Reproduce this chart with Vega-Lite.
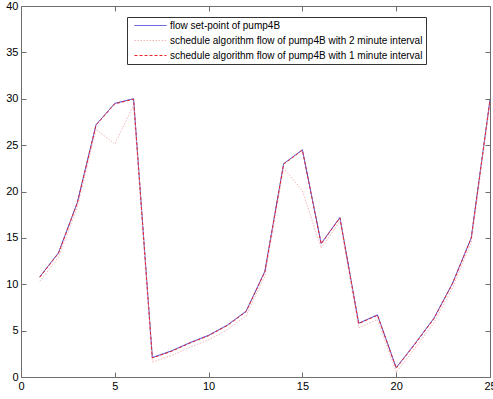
{
  "$schema": "https://vega.github.io/schema/vega-lite/v6.json",
  "width": 469,
  "height": 371,
  "autosize": {"type": "none"},
  "padding": {"left": 21, "top": 6, "right": 3, "bottom": 22},
  "background": "white",
  "config": {
    "view": {"stroke": null},
    "font": "Liberation Sans",
    "axis": {
      "grid": false,
      "domainColor": "#6e6e6e",
      "tickColor": "#6e6e6e",
      "tickSize": -5,
      "labelFontSize": 11,
      "labelColor": "#000000",
      "labelFont": "Liberation Sans",
      "title": null
    }
  },
  "datasets": {
    "flows": [
      {"x": 1, "series": "flow set-point of pump4B", "value": 10.8},
      {"x": 2, "series": "flow set-point of pump4B", "value": 13.4},
      {"x": 3, "series": "flow set-point of pump4B", "value": 18.8},
      {"x": 4, "series": "flow set-point of pump4B", "value": 27.2},
      {"x": 5, "series": "flow set-point of pump4B", "value": 29.5},
      {"x": 6, "series": "flow set-point of pump4B", "value": 30.0},
      {"x": 7, "series": "flow set-point of pump4B", "value": 2.1},
      {"x": 8, "series": "flow set-point of pump4B", "value": 2.8},
      {"x": 9, "series": "flow set-point of pump4B", "value": 3.7},
      {"x": 10, "series": "flow set-point of pump4B", "value": 4.5},
      {"x": 11, "series": "flow set-point of pump4B", "value": 5.6},
      {"x": 12, "series": "flow set-point of pump4B", "value": 7.1},
      {"x": 13, "series": "flow set-point of pump4B", "value": 11.4},
      {"x": 14, "series": "flow set-point of pump4B", "value": 23.0},
      {"x": 15, "series": "flow set-point of pump4B", "value": 24.5},
      {"x": 16, "series": "flow set-point of pump4B", "value": 14.4},
      {"x": 17, "series": "flow set-point of pump4B", "value": 17.2},
      {"x": 18, "series": "flow set-point of pump4B", "value": 5.8},
      {"x": 19, "series": "flow set-point of pump4B", "value": 6.7},
      {"x": 20, "series": "flow set-point of pump4B", "value": 1.0},
      {"x": 21, "series": "flow set-point of pump4B", "value": 3.6},
      {"x": 22, "series": "flow set-point of pump4B", "value": 6.3},
      {"x": 23, "series": "flow set-point of pump4B", "value": 10.1},
      {"x": 24, "series": "flow set-point of pump4B", "value": 15.0},
      {"x": 25, "series": "flow set-point of pump4B", "value": 29.9},

      {"x": 1, "series": "schedule algorithm flow of pump4B with 2 minute interval", "value": 10.3},
      {"x": 2, "series": "schedule algorithm flow of pump4B with 2 minute interval", "value": 12.9},
      {"x": 3, "series": "schedule algorithm flow of pump4B with 2 minute interval", "value": 18.3},
      {"x": 4, "series": "schedule algorithm flow of pump4B with 2 minute interval", "value": 26.7},
      {"x": 5, "series": "schedule algorithm flow of pump4B with 2 minute interval", "value": 25.1},
      {"x": 6, "series": "schedule algorithm flow of pump4B with 2 minute interval", "value": 29.3},
      {"x": 7, "series": "schedule algorithm flow of pump4B with 2 minute interval", "value": 1.6},
      {"x": 8, "series": "schedule algorithm flow of pump4B with 2 minute interval", "value": 2.3},
      {"x": 9, "series": "schedule algorithm flow of pump4B with 2 minute interval", "value": 3.2},
      {"x": 10, "series": "schedule algorithm flow of pump4B with 2 minute interval", "value": 4.0},
      {"x": 11, "series": "schedule algorithm flow of pump4B with 2 minute interval", "value": 5.1},
      {"x": 12, "series": "schedule algorithm flow of pump4B with 2 minute interval", "value": 6.6},
      {"x": 13, "series": "schedule algorithm flow of pump4B with 2 minute interval", "value": 10.9},
      {"x": 14, "series": "schedule algorithm flow of pump4B with 2 minute interval", "value": 22.5},
      {"x": 15, "series": "schedule algorithm flow of pump4B with 2 minute interval", "value": 20.1},
      {"x": 16, "series": "schedule algorithm flow of pump4B with 2 minute interval", "value": 13.9},
      {"x": 17, "series": "schedule algorithm flow of pump4B with 2 minute interval", "value": 16.8},
      {"x": 18, "series": "schedule algorithm flow of pump4B with 2 minute interval", "value": 5.3},
      {"x": 19, "series": "schedule algorithm flow of pump4B with 2 minute interval", "value": 6.2},
      {"x": 20, "series": "schedule algorithm flow of pump4B with 2 minute interval", "value": 0.5},
      {"x": 21, "series": "schedule algorithm flow of pump4B with 2 minute interval", "value": 3.1},
      {"x": 22, "series": "schedule algorithm flow of pump4B with 2 minute interval", "value": 5.8},
      {"x": 23, "series": "schedule algorithm flow of pump4B with 2 minute interval", "value": 9.6},
      {"x": 24, "series": "schedule algorithm flow of pump4B with 2 minute interval", "value": 14.5},
      {"x": 25, "series": "schedule algorithm flow of pump4B with 2 minute interval", "value": 29.4},

      {"x": 1, "series": "schedule algorithm flow of pump4B with 1 minute interval", "value": 10.75},
      {"x": 2, "series": "schedule algorithm flow of pump4B with 1 minute interval", "value": 13.35},
      {"x": 3, "series": "schedule algorithm flow of pump4B with 1 minute interval", "value": 18.75},
      {"x": 4, "series": "schedule algorithm flow of pump4B with 1 minute interval", "value": 27.15},
      {"x": 5, "series": "schedule algorithm flow of pump4B with 1 minute interval", "value": 29.45},
      {"x": 6, "series": "schedule algorithm flow of pump4B with 1 minute interval", "value": 29.95},
      {"x": 7, "series": "schedule algorithm flow of pump4B with 1 minute interval", "value": 2.05},
      {"x": 8, "series": "schedule algorithm flow of pump4B with 1 minute interval", "value": 2.75},
      {"x": 9, "series": "schedule algorithm flow of pump4B with 1 minute interval", "value": 3.65},
      {"x": 10, "series": "schedule algorithm flow of pump4B with 1 minute interval", "value": 4.45},
      {"x": 11, "series": "schedule algorithm flow of pump4B with 1 minute interval", "value": 5.55},
      {"x": 12, "series": "schedule algorithm flow of pump4B with 1 minute interval", "value": 7.05},
      {"x": 13, "series": "schedule algorithm flow of pump4B with 1 minute interval", "value": 11.35},
      {"x": 14, "series": "schedule algorithm flow of pump4B with 1 minute interval", "value": 22.95},
      {"x": 15, "series": "schedule algorithm flow of pump4B with 1 minute interval", "value": 24.45},
      {"x": 16, "series": "schedule algorithm flow of pump4B with 1 minute interval", "value": 14.35},
      {"x": 17, "series": "schedule algorithm flow of pump4B with 1 minute interval", "value": 17.15},
      {"x": 18, "series": "schedule algorithm flow of pump4B with 1 minute interval", "value": 5.75},
      {"x": 19, "series": "schedule algorithm flow of pump4B with 1 minute interval", "value": 6.65},
      {"x": 20, "series": "schedule algorithm flow of pump4B with 1 minute interval", "value": 0.95},
      {"x": 21, "series": "schedule algorithm flow of pump4B with 1 minute interval", "value": 3.55},
      {"x": 22, "series": "schedule algorithm flow of pump4B with 1 minute interval", "value": 6.25},
      {"x": 23, "series": "schedule algorithm flow of pump4B with 1 minute interval", "value": 10.05},
      {"x": 24, "series": "schedule algorithm flow of pump4B with 1 minute interval", "value": 14.95},
      {"x": 25, "series": "schedule algorithm flow of pump4B with 1 minute interval", "value": 29.85}
    ]
  },
  "data": {"name": "flows"},
  "layer": [
    {
      "mark": {"type": "line", "strokeWidth": 1, "clip": true},
      "encoding": {
        "x": {
          "field": "x", "type": "quantitative",
          "scale": {"domain": [0, 25], "nice": false, "zero": false},
          "axis": {"orient": "bottom", "values": [0, 5, 10, 15, 20, 25], "labelPadding": 8, "labelFlush": false}
        },
        "y": {
          "field": "value", "type": "quantitative",
          "scale": {"domain": [0, 40], "nice": false},
          "axis": {"orient": "left", "values": [0, 5, 10, 15, 20, 25, 30, 35, 40], "labelPadding": 8, "labelFlush": false}
        },
        "color": {
          "field": "series", "type": "nominal",
          "scale": {
            "domain": ["flow set-point of pump4B", "schedule algorithm flow of pump4B with 2 minute interval", "schedule algorithm flow of pump4B with 1 minute interval"],
            "range": ["#3b3bd6", "#f0b8b8", "#e8242a"]
          },
          "legend": {
            "title": null,
            "orient": "none",
            "legendX": 106,
            "legendY": 11,
            "symbolType": "M-3.2,0H3.2",
            "symbolSize": 100,
            "symbolStrokeWidth": 1,
            "symbolOffset": 15,
            "labelFontSize": 10,
            "labelFont": "Liberation Sans",
            "labelColor": "#000000",
            "labelLimit": 400,
            "rowPadding": 4,
            "padding": 3,
            "strokeColor": "#333333",
            "fillColor": "white",
            "labelOffset": 14
          }
        },
        "strokeDash": {
          "field": "series", "type": "nominal",
          "scale": {
            "domain": ["flow set-point of pump4B", "schedule algorithm flow of pump4B with 2 minute interval", "schedule algorithm flow of pump4B with 1 minute interval"],
            "range": [[1, 0], [1.5, 1.5], [3, 2]]
          },
          "legend": null
        },
        "order": {"field": "x"}
      }
    },
    {
      "mark": {"type": "line", "opacity": 0},
      "encoding": {
        "x": {
          "field": "x", "type": "quantitative",
          "scale": {"domain": [0, 25], "nice": false, "zero": false},
          "axis": {"orient": "top", "values": [0, 5, 10, 15, 20, 25], "labels": false}
        },
        "y": {
          "field": "value", "type": "quantitative",
          "scale": {"domain": [0, 40], "nice": false},
          "axis": {"orient": "right", "values": [0, 5, 10, 15, 20, 25, 30, 35, 40], "labels": false}
        }
      }
    }
  ],
  "resolve": {"scale": {"x": "independent", "y": "independent"}, "axis": {"x": "independent", "y": "independent"}}
}
